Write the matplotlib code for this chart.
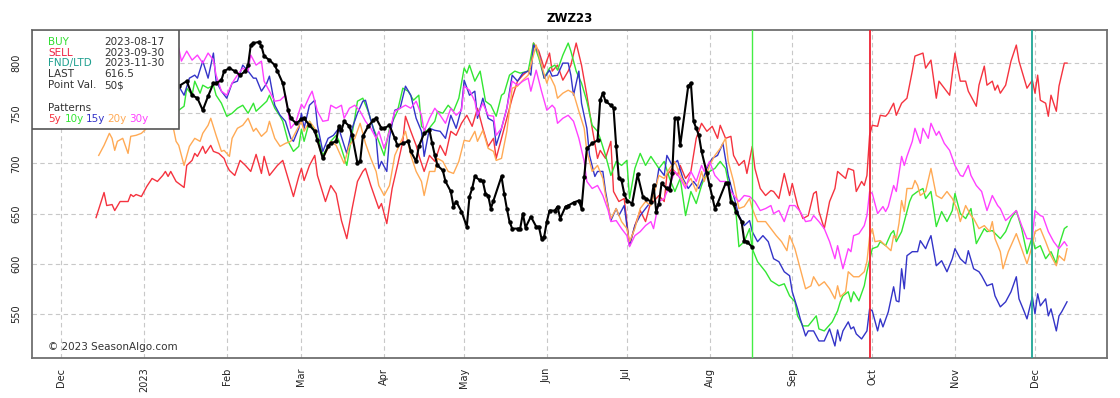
import numpy as np
import pandas as pd
import matplotlib
matplotlib.use("Agg")
import matplotlib.pyplot as plt
import matplotlib.dates as mdates
from matplotlib.patches import Rectangle

# day offsets from 2022-12-01 and prices (cents/bu)
base_date = "2022-12-01"

pattern_5y = [(13, 646), (16, 671), (17, 658), (19, 659), (20, 653), (22, 662), (25, 662), (26, 669),
              (27, 667), (28, 669), (30, 667), (32, 677), (34, 685), (36, 682), (38, 688), (39, 692),
              (40, 687), (41, 692), (43, 682), (45, 678), (46, 676), (47, 698), (49, 703), (50, 710),
              (51, 707), (53, 717), (54, 710), (56, 718), (57, 712), (59, 710), (61, 705), (62, 698),
              (63, 693), (65, 688), (67, 703), (69, 698), (71, 692), (73, 709), (75, 690), (76, 707),
              (78, 688), (81, 698), (83, 703), (85, 685), (87, 667), (89, 687), (90, 695), (91, 683),
              (93, 698), (95, 708), (96, 688), (99, 662), (101, 678), (103, 670), (105, 643), (107, 625),
              (109, 655), (111, 682), (113, 692), (114, 695), (116, 678), (119, 655), (120, 660), (122, 640),
              (124, 675), (126, 698), (128, 722), (129, 747), (131, 732), (133, 718), (134, 708), (136, 692),
              (138, 708), (140, 702), (142, 718), (144, 708), (146, 732), (148, 728), (150, 740), (152, 748),
              (154, 737), (156, 755), (158, 735), (160, 717), (162, 725), (163, 705), (165, 725), (167, 745),
              (169, 765), (171, 782), (173, 788), (176, 795), (177, 820), (179, 812), (181, 795), (183, 810),
              (184, 792), (186, 798), (188, 783), (190, 792), (191, 798), (193, 820), (195, 798), (197, 768),
              (199, 735), (201, 705), (202, 713), (204, 705), (206, 722), (207, 672), (209, 662), (211, 665),
              (213, 618), (215, 638), (217, 653), (219, 642), (221, 662), (222, 662), (224, 668), (226, 662),
              (227, 688), (229, 695), (231, 688), (232, 698), (234, 685), (236, 692), (238, 725), (240, 740),
              (242, 732), (244, 737), (246, 725), (247, 738), (249, 725), (251, 727), (252, 708), (254, 698),
              (256, 703), (257, 690), (259, 717), (260, 695), (262, 675), (264, 668), (266, 673), (267, 672),
              (269, 665), (271, 690), (273, 668), (274, 680), (276, 658), (278, 645), (280, 648), (282, 670),
              (283, 672), (284, 652), (286, 635), (288, 662), (290, 675), (291, 692), (294, 685), (295, 695),
              (297, 693), (298, 672), (300, 682), (301, 678), (302, 688), (303, 728), (304, 738), (306, 737),
              (307, 748), (309, 747), (310, 750), (312, 760), (313, 748), (315, 760), (317, 765), (319, 792),
              (320, 807), (323, 810), (324, 795), (326, 803), (328, 765), (329, 782), (331, 775), (333, 768),
              (335, 810), (337, 782), (339, 782), (340, 772), (343, 757), (344, 778), (346, 797), (347, 778),
              (349, 782), (350, 773), (351, 778), (352, 770), (354, 778), (356, 802), (358, 818), (359, 802),
              (362, 775), (364, 783), (365, 770), (366, 788), (367, 763), (369, 760), (370, 747), (371, 768),
              (373, 752), (374, 777), (376, 800), (377, 800)]

pattern_10y = [(13, 760), (20, 772), (27, 768), (34, 778), (40, 770), (44, 753), (46, 757), (47, 775),
               (49, 768), (50, 782), (52, 770), (53, 778), (55, 775), (57, 778), (58, 768), (60, 760),
               (62, 747), (64, 750), (66, 755), (68, 758), (70, 750), (72, 760), (73, 752), (75, 757),
               (77, 762), (78, 768), (80, 755), (82, 747), (83, 742), (85, 722), (87, 712), (89, 717),
               (90, 734), (91, 722), (93, 742), (96, 728), (98, 708), (101, 722), (103, 728), (104, 723),
               (107, 698), (110, 745), (111, 762), (113, 765), (115, 752), (117, 735), (119, 722), (121, 708),
               (123, 735), (126, 752), (128, 775), (130, 772), (132, 763), (134, 768), (135, 737), (137, 732),
               (140, 742), (141, 752), (143, 750), (145, 758), (147, 752), (149, 765), (151, 795), (152, 790),
               (153, 798), (155, 782), (157, 792), (159, 762), (161, 758), (163, 747), (165, 768), (166, 770),
               (168, 788), (170, 792), (172, 790), (175, 792), (177, 820), (179, 805), (181, 785), (183, 795),
               (185, 798), (186, 793), (188, 808), (190, 820), (191, 812), (193, 792), (195, 780), (197, 762),
               (199, 738), (201, 732), (202, 725), (204, 708), (206, 688), (208, 702), (210, 698), (212, 703),
               (213, 665), (215, 695), (217, 710), (219, 698), (221, 707), (222, 703), (224, 695), (226, 702),
               (228, 685), (230, 672), (232, 685), (234, 648), (236, 672), (238, 660), (240, 678), (241, 685),
               (243, 692), (245, 695), (247, 702), (249, 695), (251, 668), (253, 648), (254, 617), (256, 622),
               (258, 635), (259, 615), (261, 602), (264, 592), (266, 583), (269, 578), (271, 580), (273, 568),
               (275, 562), (276, 548), (278, 538), (280, 538), (283, 548), (284, 535), (286, 533), (289, 542),
               (291, 553), (292, 562), (293, 568), (295, 572), (296, 562), (297, 572), (299, 563), (301, 578),
               (302, 592), (304, 615), (306, 617), (307, 622), (309, 618), (311, 630), (312, 633), (313, 622),
               (315, 632), (316, 642), (318, 662), (319, 668), (321, 672), (323, 675), (324, 665), (326, 672),
               (328, 637), (330, 652), (332, 642), (334, 653), (335, 670), (337, 650), (339, 645), (341, 655),
               (343, 620), (346, 635), (347, 632), (349, 633), (352, 625), (354, 632), (356, 645), (358, 653),
               (360, 635), (362, 610), (364, 627), (365, 615), (367, 618), (369, 605), (371, 612), (373, 600),
               (374, 618), (376, 635), (377, 637)]

pattern_15y = [(13, 785), (20, 795), (27, 790), (34, 800), (40, 790), (44, 777), (46, 768), (48, 785),
               (50, 788), (51, 785), (53, 802), (55, 785), (57, 810), (58, 782), (60, 772), (62, 765),
               (64, 780), (66, 782), (68, 798), (70, 792), (72, 785), (73, 785), (75, 772), (77, 780),
               (78, 787), (80, 758), (82, 748), (84, 742), (86, 725), (87, 722), (89, 735), (90, 750),
               (91, 735), (93, 758), (95, 763), (96, 738), (98, 712), (100, 725), (102, 728), (104, 735),
               (106, 718), (107, 710), (109, 735), (111, 750), (113, 762), (114, 763), (116, 743), (118, 725),
               (119, 695), (120, 702), (122, 692), (123, 725), (125, 753), (127, 755), (129, 777), (131, 768),
               (133, 745), (135, 732), (136, 707), (138, 735), (140, 733), (142, 732), (144, 725), (146, 748),
               (148, 735), (150, 755), (151, 783), (153, 768), (155, 772), (156, 745), (158, 765), (160, 745),
               (162, 742), (163, 718), (165, 735), (167, 755), (169, 788), (171, 782), (173, 790), (175, 792),
               (176, 788), (177, 818), (179, 810), (181, 785), (183, 793), (184, 787), (186, 788), (188, 800),
               (190, 800), (191, 788), (192, 768), (194, 792), (195, 760), (197, 735), (198, 708), (200, 687),
               (201, 692), (203, 692), (204, 672), (206, 643), (208, 655), (209, 648), (211, 658), (212, 638),
               (213, 618), (215, 638), (217, 648), (219, 655), (221, 662), (223, 678), (224, 695), (226, 688),
               (227, 708), (229, 698), (231, 703), (233, 685), (235, 675), (237, 682), (239, 675), (241, 688),
               (242, 695), (244, 705), (246, 708), (248, 720), (250, 688), (252, 668), (254, 648), (256, 638),
               (258, 643), (259, 632), (261, 622), (263, 628), (265, 622), (267, 605), (269, 602), (271, 592),
               (273, 588), (274, 572), (276, 555), (277, 545), (279, 528), (280, 533), (282, 533), (284, 523),
               (286, 523), (288, 535), (290, 518), (291, 534), (292, 523), (293, 533), (295, 542), (296, 535),
               (297, 537), (298, 530), (300, 525), (302, 533), (303, 555), (304, 553), (306, 533), (307, 545),
               (308, 537), (310, 552), (312, 577), (313, 563), (314, 562), (315, 595), (316, 575), (317, 608),
               (319, 612), (321, 612), (322, 623), (324, 615), (325, 622), (326, 628), (328, 598), (330, 603),
               (332, 592), (334, 605), (335, 615), (337, 605), (339, 600), (340, 613), (342, 595), (344, 592),
               (345, 588), (347, 578), (349, 580), (350, 568), (352, 557), (354, 562), (356, 572), (358, 587),
               (359, 565), (361, 552), (362, 545), (364, 567), (365, 550), (366, 570), (367, 558), (369, 565),
               (370, 548), (371, 555), (373, 533), (374, 548), (375, 552), (377, 562)]

pattern_20y = [(14, 708), (16, 718), (18, 730), (19, 725), (20, 713), (21, 722), (23, 725), (25, 710),
               (26, 727), (28, 728), (30, 730), (32, 735), (33, 743), (35, 740), (37, 745), (39, 745),
               (41, 748), (43, 722), (44, 718), (46, 698), (48, 717), (50, 725), (52, 722), (53, 730),
               (55, 738), (56, 745), (58, 728), (60, 712), (61, 713), (63, 707), (64, 725), (66, 735),
               (68, 738), (70, 745), (72, 732), (73, 735), (75, 727), (77, 732), (78, 742), (80, 725),
               (82, 717), (84, 720), (86, 722), (88, 732), (90, 742), (91, 732), (93, 742), (95, 735),
               (96, 722), (98, 705), (100, 715), (101, 722), (103, 718), (104, 712), (106, 700), (108, 718),
               (110, 725), (112, 740), (114, 720), (116, 705), (118, 692), (119, 678), (121, 668), (123, 678),
               (125, 708), (127, 720), (129, 732), (131, 708), (133, 692), (135, 682), (136, 668), (138, 692),
               (140, 692), (141, 705), (143, 702), (145, 692), (147, 690), (149, 702), (151, 723), (153, 722),
               (155, 732), (156, 722), (158, 733), (160, 715), (162, 712), (163, 703), (165, 705), (167, 732),
               (169, 775), (171, 777), (173, 783), (175, 788), (176, 798), (178, 818), (180, 798), (182, 780),
               (183, 788), (185, 777), (186, 765), (188, 770), (190, 773), (192, 770), (194, 752), (196, 735),
               (197, 712), (199, 692), (201, 698), (203, 685), (204, 668), (206, 645), (208, 655), (210, 642),
               (212, 635), (213, 622), (215, 635), (217, 655), (219, 662), (221, 658), (223, 678), (224, 688),
               (226, 685), (228, 695), (230, 702), (232, 688), (234, 678), (236, 685), (238, 672), (240, 692),
               (241, 682), (243, 698), (245, 708), (247, 715), (249, 725), (250, 702), (252, 682), (254, 655),
               (256, 657), (258, 665), (259, 655), (261, 642), (264, 642), (266, 635), (268, 628), (270, 622),
               (272, 613), (273, 628), (275, 615), (277, 595), (279, 575), (281, 578), (282, 587), (284, 578),
               (286, 582), (288, 575), (290, 565), (291, 578), (292, 567), (294, 572), (295, 592), (297, 587),
               (299, 587), (301, 592), (302, 602), (303, 627), (304, 635), (305, 622), (307, 623), (309, 618),
               (311, 613), (312, 628), (313, 625), (314, 640), (315, 663), (316, 652), (317, 675), (319, 675),
               (320, 683), (321, 678), (322, 668), (324, 672), (326, 695), (328, 668), (330, 665), (332, 672),
               (334, 665), (336, 653), (337, 642), (339, 658), (341, 648), (342, 645), (344, 635), (346, 638),
               (348, 632), (349, 642), (350, 625), (352, 612), (353, 595), (355, 612), (358, 630), (360, 615),
               (362, 600), (364, 618), (365, 632), (367, 635), (369, 622), (371, 608), (373, 598), (374, 608),
               (376, 603), (377, 615)]

pattern_30y = [(13, 790), (20, 800), (27, 795), (34, 805), (40, 800), (44, 815), (45, 802), (47, 812),
               (49, 803), (51, 808), (53, 800), (55, 810), (57, 803), (58, 788), (60, 772), (62, 768),
               (64, 780), (66, 788), (68, 795), (70, 792), (71, 808), (73, 798), (75, 802), (76, 782),
               (78, 772), (80, 762), (82, 763), (84, 768), (86, 735), (88, 742), (90, 759), (91, 755),
               (93, 767), (94, 772), (96, 752), (98, 742), (100, 743), (101, 758), (103, 755), (105, 758),
               (106, 745), (108, 755), (110, 758), (112, 752), (114, 742), (116, 735), (118, 725), (119, 732),
               (121, 715), (123, 732), (125, 752), (127, 755), (129, 758), (131, 755), (133, 762), (135, 748),
               (136, 732), (138, 745), (140, 755), (142, 748), (144, 740), (146, 755), (148, 748), (150, 753),
               (151, 777), (153, 773), (155, 762), (156, 748), (158, 760), (160, 748), (162, 747), (163, 728),
               (165, 735), (167, 755), (169, 782), (171, 778), (173, 782), (175, 785), (176, 772), (178, 793),
               (180, 772), (182, 753), (184, 758), (185, 755), (186, 740), (188, 745), (190, 748), (192, 742),
               (194, 725), (196, 702), (197, 682), (199, 675), (201, 678), (203, 668), (205, 653), (206, 642),
               (208, 643), (210, 635), (212, 628), (213, 617), (215, 628), (217, 632), (219, 638), (221, 642),
               (222, 635), (224, 662), (226, 665), (228, 678), (230, 692), (232, 685), (234, 675), (236, 692),
               (238, 682), (240, 698), (241, 692), (243, 702), (245, 688), (247, 682), (249, 682), (251, 672),
               (253, 665), (254, 662), (256, 668), (258, 667), (260, 662), (262, 653), (264, 655), (266, 658),
               (267, 650), (269, 653), (271, 642), (273, 658), (275, 658), (277, 652), (279, 642), (281, 643),
               (282, 648), (284, 642), (286, 635), (288, 622), (290, 605), (291, 618), (293, 595), (295, 615),
               (296, 612), (297, 628), (299, 630), (301, 638), (302, 648), (303, 672), (304, 670), (306, 650),
               (308, 657), (309, 652), (310, 657), (312, 678), (313, 672), (315, 707), (316, 698), (317, 707),
               (319, 722), (320, 735), (322, 720), (323, 735), (325, 725), (326, 740), (328, 728), (329, 732),
               (331, 720), (333, 713), (335, 698), (337, 688), (338, 687), (340, 698), (341, 688), (343, 678),
               (345, 672), (347, 653), (349, 668), (351, 658), (352, 655), (354, 643), (356, 648), (358, 653),
               (360, 638), (362, 625), (364, 625), (365, 653), (367, 648), (368, 647), (370, 632), (372, 622),
               (374, 615), (376, 622), (377, 618)]

actual = [(36, 772), (40, 778), (44, 777), (47, 782), (49, 768), (51, 765), (53, 753), (55, 767),
          (57, 780), (58, 780), (60, 783), (61, 792), (63, 795), (65, 792), (67, 788), (69, 792),
          (70, 798), (71, 818), (72, 820), (74, 821), (75, 817), (76, 807), (78, 803), (80, 798),
          (81, 792), (83, 780), (85, 753), (86, 745), (88, 740), (90, 744), (91, 745), (93, 738),
          (95, 732), (96, 723), (98, 705), (100, 717), (101, 720), (103, 722), (104, 737), (105, 733),
          (106, 742), (108, 737), (109, 728), (111, 700), (112, 702), (113, 727), (115, 737), (117, 743),
          (118, 745), (120, 735), (121, 735), (123, 738), (125, 725), (126, 718), (128, 720), (130, 722),
          (131, 712), (133, 702), (134, 717), (136, 730), (138, 733), (139, 720), (140, 708), (141, 698),
          (143, 693), (144, 682), (146, 672), (147, 657), (148, 662), (150, 652), (152, 637), (153, 667),
          (154, 675), (155, 687), (157, 683), (158, 682), (159, 670), (160, 668), (161, 655), (162, 663),
          (165, 687), (166, 670), (167, 655), (168, 642), (169, 635), (171, 635), (172, 635), (173, 650),
          (174, 636), (176, 647), (178, 637), (179, 637), (180, 625), (181, 627), (182, 642), (183, 653),
          (185, 653), (186, 657), (187, 645), (189, 657), (190, 658), (192, 661), (194, 663), (195, 655),
          (196, 686), (197, 715), (199, 720), (201, 723), (202, 763), (203, 770), (204, 762), (206, 758),
          (207, 755), (208, 717), (209, 685), (210, 683), (211, 670), (212, 663), (214, 660), (216, 689),
          (218, 667), (219, 665), (221, 662), (222, 678), (223, 652), (224, 660), (225, 680), (227, 675),
          (228, 673), (229, 690), (230, 745), (231, 745), (232, 718), (235, 777), (236, 780), (237, 742),
          (238, 735), (239, 728), (240, 712), (242, 690), (243, 678), (244, 667), (245, 655), (246, 660),
          (249, 680), (250, 680), (251, 662), (252, 660), (253, 652), (255, 642), (256, 623), (257, 622),
          (259, 616.5)]

buy_date = "2023-08-17"
sell_date = "2023-09-30"
fnd_date = "2023-11-30"
last_price = "616.5"
point_val = "50$"

series = [(pattern_5y, "#f5333f"), (pattern_10y, "#33e633"), (pattern_15y, "#3434c8"),
          (pattern_20y, "#ffaa55"), (pattern_30y, "#ff40ff")]


def to_xy(pts):
    days, vals = zip(*pts)
    dates = pd.Timestamp(base_date) + pd.to_timedelta(list(days), unit="D")
    return dates, np.array(vals, dtype=float)


fig = plt.figure(figsize=(11.2, 3.98), dpi=100)
ax = fig.add_axes([0.0286, 0.1005, 0.9598, 0.8241])

for pts, col in series:
    x, y = to_xy(pts)
    ax.plot(x, y, color=col, lw=1.0, zorder=2)

x, y = to_xy(actual)
ax.plot(x, y, color="black", lw=1.5, marker="o", ms=2.2, zorder=4)

ax.axvline(pd.Timestamp(buy_date), color="#44ee44", lw=1.0, zorder=3)
ax.axvline(pd.Timestamp(sell_date), color="#ee2233", lw=1.3, zorder=3)
ax.axvline(pd.Timestamp(fnd_date), color="#1fa595", lw=1.3, zorder=3)

ax.set_xlim(pd.Timestamp("2022-11-20"), pd.Timestamp("2023-12-28"))
ax.set_ylim(506, 833)
ax.set_yticks([550, 600, 650, 700, 750, 800])

ax.xaxis.set_major_locator(mdates.MonthLocator())
ax.xaxis.set_major_formatter(plt.FuncFormatter(
    lambda v, p: "2023" if mdates.num2date(v).month == 1 else mdates.num2date(v).strftime("%b")))

ax.grid(True, color="#c8c8c8", ls=(0, (4, 3)), lw=0.8)
ax.set_axisbelow(True)
for s in ax.spines.values():
    s.set_color("#707070")
    s.set_linewidth(1.3)
ax.tick_params(axis="both", length=0, labelsize=7, colors="#222222")
ax.tick_params(axis="x", pad=7)
ax.tick_params(axis="y", pad=8)
plt.setp(ax.get_xticklabels(), rotation=90)
plt.setp(ax.get_yticklabels(), rotation=90, va="center")

ax.set_title("ZWZ23", fontsize=8.5, fontweight="bold", pad=6)

# info box in the top left corner
ax.add_patch(Rectangle((0, 0.698), 0.137, 0.302, transform=ax.transAxes,
                       facecolor="white", edgecolor="#555555", lw=1.2, zorder=6))
rows = [("BUY", buy_date, "#33dd33", 0.963), ("SELL", sell_date, "#ee2244", 0.931),
        ("FND/LTD", fnd_date, "#20a090", 0.899), ("LAST", last_price, "#333333", 0.866),
        ("Point Val.", point_val, "#333333", 0.832)]
for lab, val, col, yy in rows:
    ax.text(0.0149, yy, lab, color=col, fontsize=7.5, va="center", transform=ax.transAxes, zorder=7)
    ax.text(0.067, yy, val, color="#333333", fontsize=7.5, va="center", transform=ax.transAxes, zorder=7)
ax.text(0.0149, 0.762, "Patterns", color="#333333", fontsize=7.5, va="center",
        transform=ax.transAxes, zorder=7)
for lab, (pts, col), xx in zip(["5y", "10y", "15y", "20y", "30y"], series,
                               [0.0149, 0.0307, 0.0502, 0.0698, 0.0902]):
    ax.text(xx, 0.730, lab, color=col, fontsize=7.5, va="center", transform=ax.transAxes, zorder=7)

ax.text(0.0149, 0.034, "\u00a9 2023 SeasonAlgo.com", color="#333333", fontsize=7.5,
        va="center", transform=ax.transAxes)

fig.savefig("out.png", dpi=100)
